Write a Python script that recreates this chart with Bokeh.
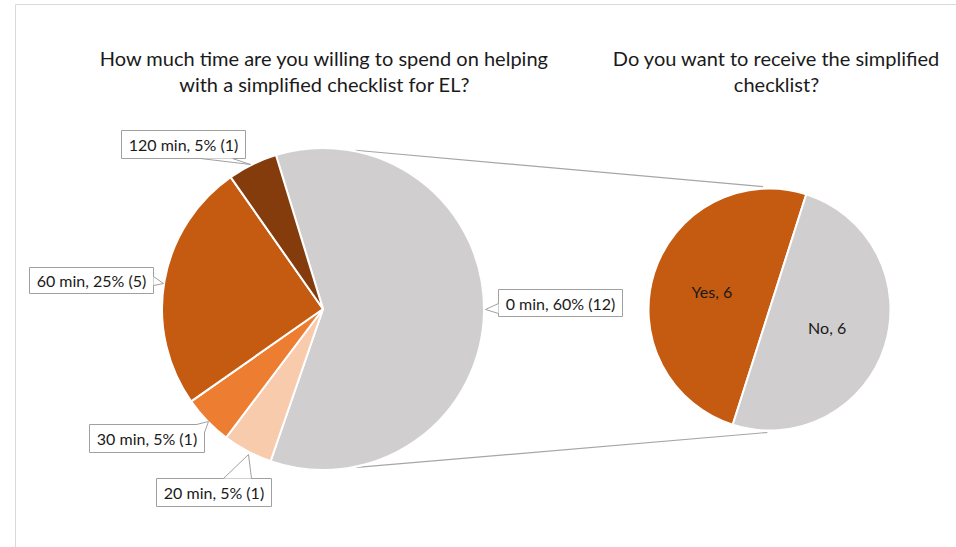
import numpy as np
from bokeh.plotting import figure
from bokeh.models import Range1d
from bokeh.embed import file_html
from bokeh.resources import INLINE
from bokeh.core.properties import value

W, H = 956, 547

# ---------------- data ----------------
time_labels = ["0 min", "20 min", "30 min", "60 min", "120 min"]
time_counts = [12, 1, 1, 5, 1]
time_colors = ["#d0cece", "#f8cbad", "#ed7d31", "#c55a11", "#843c0c"]

receive_labels = ["Yes", "No"]
receive_counts = [6, 6]
receive_colors = ["#c55a11", "#d0cece"]

title_left = ["How much time are you willing to spend on helping",
              "with a simplified checklist for EL?"]
title_right = ["Do you want to receive the simplified", "checklist?"]

# ---------------- layout (pixel coords, y down) ----------------
FONT = "Lato"
TXT = "#1a1a1a"
BOX_LINE = "#a0a0a0"
L_CX, L_CY, L_R = 322.5, 308.5, 161.0
R_CX, R_CY, R_R = 769.0, 309.0, 121.0
L_START_DEG = 107.0      # first slice begins here, slices run clockwise
R_START_DEG = 72.3

# callout boxes: left, top, right, bottom ; tail: base1, tip, base2
label_boxes = {
    "0 min":   ((498, 289, 622, 316), ((498, 303), (485, 309), (498, 313))),
    "20 min":  ((156, 478, 271, 506), ((223, 478), (248, 454), (251, 478))),
    "30 min":  ((89, 424, 204, 452),  ((196, 424), (208, 421), (204, 432))),
    "60 min":  ((29, 267, 153, 293),  ((153, 276), (163, 283), (153, 285))),
    "120 min": ((121, 130, 245, 158), ((200, 158), (250, 164), (232, 158))),
}


def Y(py):
    return H - py


p = figure(width=W, height=H, x_range=Range1d(0, W), y_range=Range1d(0, H),
           output_backend="svg", toolbar_location=None, min_border=0,
           x_axis_location=None, y_axis_location=None)
p.grid.visible = False
p.outline_line_color = None
p.background_fill_color = "white"
p.border_fill_color = "white"

# chart frame (left and top edges visible)
p.line(x=[15, 15, W], y=[0, Y(4), Y(4)], line_color="#d9d9d9", line_width=1)

# ---------------- connector lines ----------------
def pt(cx, cy, r, deg):
    a = np.radians(deg)
    return cx + r * np.cos(a), cy - r * np.sin(a)

a1 = pt(L_CX, L_CY, L_R + 1, 78.5)
b1 = pt(R_CX, R_CY, R_R + 2, 93.0)
a2 = pt(L_CX, L_CY, L_R + 1, -78.0)
b2 = pt(R_CX, R_CY, R_R + 2, -91.0)
p.multi_line(xs=[[a1[0], b1[0]], [a2[0], b2[0]]],
             ys=[[Y(a1[1]), Y(b1[1])], [Y(a2[1]), Y(b2[1])]],
             line_color="#a6a6a6", line_width=1.2)

# ---------------- left pie ----------------
total = sum(time_counts)
cur = np.radians(L_START_DEG)
l_start, l_end = [], []
for c in time_counts:
    sweep = 2 * np.pi * c / total
    l_end.append(cur)
    l_start.append(cur - sweep)
    cur -= sweep
p.wedge(x=L_CX, y=Y(L_CY), radius=L_R, start_angle=l_start, end_angle=l_end,
        fill_color=time_colors, line_color="white", line_width=2)

# ---------------- right pie ----------------
rtotal = sum(receive_counts)
cur = np.radians(R_START_DEG)
r_start, r_end = [], []
for c in receive_counts:
    sweep = 2 * np.pi * c / rtotal
    r_start.append(cur)
    r_end.append(cur + sweep)
    cur += sweep
p.wedge(x=R_CX, y=Y(R_CY), radius=R_R, start_angle=r_start, end_angle=r_end,
        fill_color=receive_colors, line_color="white", line_width=2)

mids = [(s + e) / 2 for s, e in zip(r_start, r_end)]
p.text(x=[R_CX + 0.5 * R_R * np.cos(m) for m in mids],
       y=[Y(R_CY) + 0.5 * R_R * np.sin(m) for m in mids],
       text=[f"{l}, {c}" for l, c in zip(receive_labels, receive_counts)],
       text_font=value(FONT), text_font_size="16px", text_color=TXT,
       text_align="center", text_baseline="middle")

# ---------------- callout labels ----------------
bx_l, bx_r, bx_t, bx_b = [], [], [], []
tail_x, tail_y, tl_xs, tl_ys = [], [], [], []
tx, ty, tt = [], [], []
for lab, c in zip(time_labels, time_counts):
    (l, t, r, b), (p1, tip, p2) = label_boxes[lab]
    bx_l.append(l); bx_r.append(r); bx_t.append(Y(t)); bx_b.append(Y(b))
    tail_x.append([p1[0], tip[0], p2[0]])
    tail_y.append([Y(p1[1]), Y(tip[1]), Y(p2[1])])
    tl_xs.append([p1[0], tip[0], p2[0]])
    tl_ys.append([Y(p1[1]), Y(tip[1]), Y(p2[1])])
    tx.append((l + r) / 2); ty.append(Y((t + b) / 2))
    tt.append(f"{lab}, {round(100 * c / total)}% ({c})")

p.quad(left=bx_l, right=bx_r, top=bx_t, bottom=bx_b,
       fill_color="white", line_color=BOX_LINE, line_width=1)
p.patches(xs=tail_x, ys=tail_y, fill_color="white", line_color=None)
p.multi_line(xs=tl_xs, ys=tl_ys, line_color=BOX_LINE, line_width=1)
p.text(x=tx, y=ty, text=tt, text_font=value(FONT), text_font_size="16px",
       text_color=TXT, text_align="center", text_baseline="middle")

# ---------------- titles ----------------
p.text(x=[324, 324], y=[Y(57), Y(83)], text=title_left,
       text_font=value(FONT), text_font_size="20px", text_color=TXT,
       text_align="center", text_baseline="middle")
p.text(x=[776, 776], y=[Y(57), Y(83)], text=title_right,
       text_font=value(FONT), text_font_size="20px", text_color=TXT,
       text_align="center", text_baseline="middle")

open("out.html", "w").write(file_html(p, INLINE))
